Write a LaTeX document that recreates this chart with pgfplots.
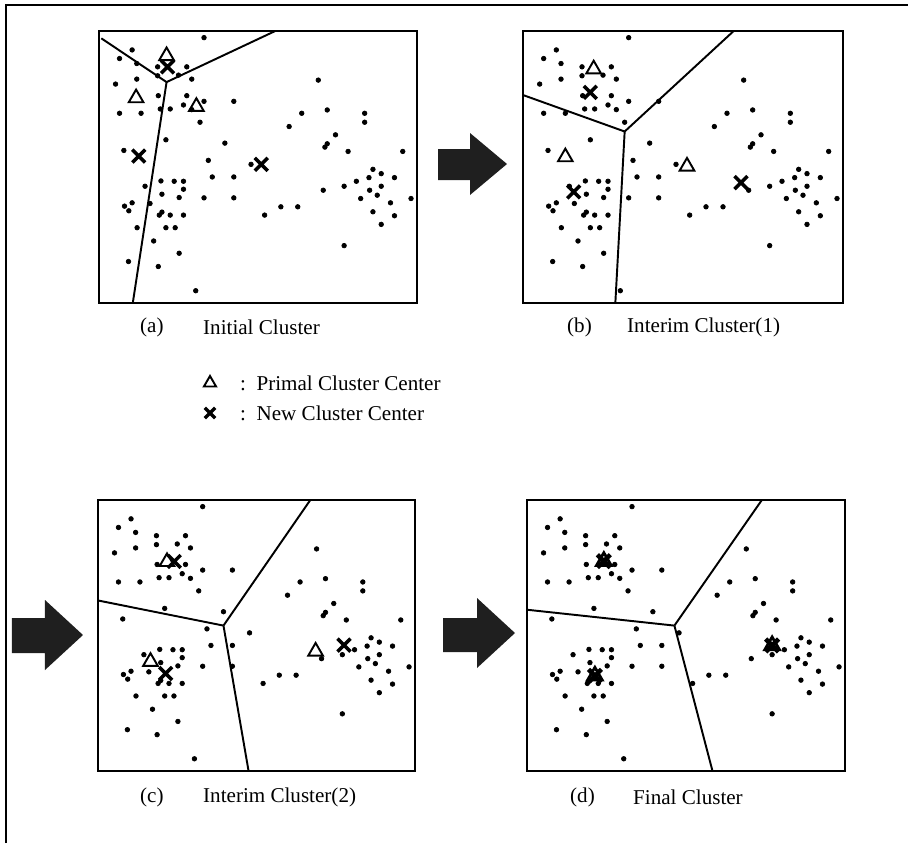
\documentclass[border=0pt]{standalone}
\usepackage{fontspec}
\setmainfont{Liberation Serif}
\usepackage{pgfplots}
\usepackage{pgfplotstable}
\pgfplotsset{compat=1.18}

\pgfplotstableread{
x y
345 40
128 77
90 103
142 118
205 128
293 128
205 155
268 153
142 165
78 180
308 165
207 215
293 215
345 232
435 232
90 268
155 268
213 255
243 255
283 243
308 257
333 295
230 348
408 358
103 380
358 410
487 422
370 460
435 460
215 472
255 473
283 473
167 488
283 497
218 512
270 522
345 523
435 523
128 538
105 548
118 562
182 540
210 575
218 566
243 575
283 575
143 613
230 613
258 613
193 653
270 690
117 715
207 730
320 803
690 168
640 268
717 258
830 268
830 295
602 308
742 333
710 370
717 360
780 383
945 383
705 500
768 488
855 437
880 450
843 462
920 462
805 473
880 488
845 500
868 515
818 525
908 538
970 525
577 550
628 550
528 575
855 565
920 577
880 603
768 667
}\pts

\pgfplotsset{
  panel/.style={scale only axis, xmin=28, xmax=988, ymin=20, ymax=840,
    y dir=reverse, ticks=none, axis line style={line width=1.2pt}, anchor=south west},
  dots/.style={only marks, mark=*, mark size=1.3pt, black},
  vline/.style={black, line width=1.1pt, mark=none},
  tri/.style={only marks, mark=triangle, mark size=4.8pt, black, line width=1.1pt},
  newc/.style={only marks, mark=x, mark size=5.2pt, black, line width=2pt},
}

\begin{document}
\begin{tikzpicture}
\useasboundingbox (0,0) rectangle (18.16cm,-16.86cm);

% overlay axis in pixel coordinates
\begin{axis}[at={(0cm,-16.86cm)}, anchor=south west, scale only axis,
  width=18.16cm, height=16.86cm, xmin=0, xmax=908, ymin=0, ymax=843,
  y dir=reverse, hide axis, clip=false]
\draw[line width=1.2pt] (6,843) -- (6,5) -- (908,5);
\fill[black!88] (438,149) -- (470,149) -- (470,133) -- (507,164) -- (470,195) -- (470,180) -- (438,180) -- cycle;
\fill[black!88] (12,618) -- (45,618) -- (45,600) -- (83,635) -- (45,670) -- (45,653) -- (12,653) -- cycle;
\fill[black!88] (443,618) -- (477,618) -- (477,598) -- (515,633) -- (477,668) -- (477,652) -- (443,652) -- cycle;
\addplot[only marks, mark=triangle, mark size=4pt, black, line width=1.1pt] coordinates {(210,383)};
\addplot[only marks, mark=x, mark size=4.2pt, black, line width=2pt] coordinates {(210,413)};
\node[anchor=west, font=\fontsize{12}{14}\selectfont] at (234,383) {:\ \ Primal Cluster Center};
\node[anchor=west, font=\fontsize{12}{14}\selectfont] at (234,413) {:\ \ New Cluster Center};
\node[anchor=west, font=\fontsize{12}{14}\selectfont] at (134,327) {(a)};
\node[anchor=west, font=\fontsize{12}{14}\selectfont] at (197,327) {Initial Cluster};
\node[anchor=west, font=\fontsize{12}{14}\selectfont] at (561,327) {(b)};
\node[anchor=west, font=\fontsize{12}{14}\selectfont] at (621,327) {Interim Cluster(1)};
\node[anchor=west, font=\fontsize{12}{14}\selectfont] at (134,797) {(c)};
\node[anchor=west, font=\fontsize{12}{14}\selectfont] at (197,797) {Interim Cluster(2)};
\node[anchor=west, font=\fontsize{12}{14}\selectfont] at (564,797) {(d)};
\node[anchor=west, font=\fontsize{12}{14}\selectfont] at (627,797) {Final Cluster};
\end{axis}

% (a)
\begin{axis}[panel, at={(1.98cm,-6.06cm)}, width=6.36cm, height=5.44cm]
\addplot[dots] table {\pts};
\addplot[vline] coordinates {(35,42) (232,174)};
\addplot[vline] coordinates {(560,20) (232,174)};
\addplot[vline] coordinates {(232,174) (130,840)};
\addplot[tri] coordinates {(232,95) (140,222) (322,248)};
\addplot[newc] coordinates {(235,128) (148,397) (518,422)};
\end{axis}

% (b)
\begin{axis}[panel, at={(10.46cm,-6.06cm)}, width=6.40cm, height=5.44cm]
\addplot[dots] table {\pts};
\addplot[vline] coordinates {(28,213) (333,323)};
\addplot[vline] coordinates {(333,323) (660,20)};
\addplot[vline] coordinates {(333,323) (305,840)};
\addplot[tri] coordinates {(240,135) (155,400) (520,428)};
\addplot[newc] coordinates {(230,205) (180,505) (682,477)};
\end{axis}

% (c)
\begin{axis}[panel, at={(1.96cm,-15.42cm)}, width=6.34cm, height=5.42cm]
\addplot[dots] table {\pts};
\addplot[vline] coordinates {(28,324) (408,400)};
\addplot[vline] coordinates {(408,400) (671,20)};
\addplot[vline] coordinates {(408,400) (484,840)};
\addplot[tri] coordinates {(237,207) (187,509) (687,478)};
\addplot[newc] coordinates {(259,206) (233,545) (773,459)};
\end{axis}

% (d)
\begin{axis}[panel, at={(10.54cm,-15.42cm)}, width=6.36cm, height=5.42cm]
\addplot[dots] table {\pts};
\addplot[vline] coordinates {(28,352) (473,400)};
\addplot[vline] coordinates {(473,400) (737,20)};
\addplot[vline] coordinates {(473,400) (588,840)};
\addplot[tri, line width=1.6pt] coordinates {(260,205) (233,552) (768,460)};
\addplot[newc, line width=2.6pt] coordinates {(260,205) (233,552) (768,460)};
\end{axis}
\end{tikzpicture}
\end{document}
